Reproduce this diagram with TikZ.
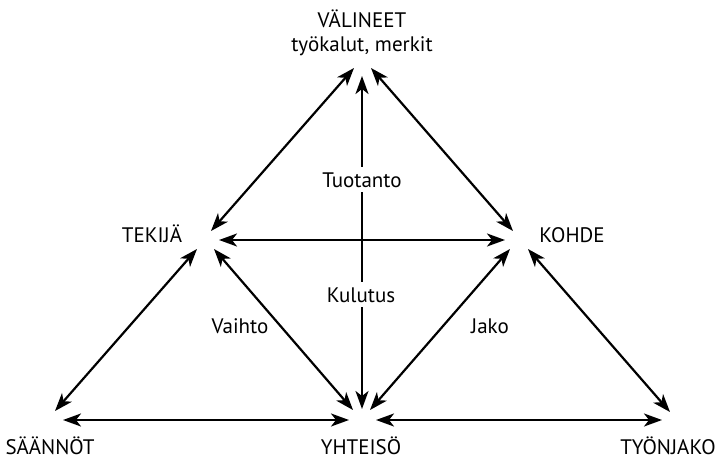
\documentclass[tikz,border=0pt]{standalone}
\usepackage{fontspec}
\setmainfont{PT Sans}
\usetikzlibrary{arrows.meta}
\begin{document}
\begin{tikzpicture}[x=1pt,y=-1pt,
  link/.style={line width=2.2pt,{Stealth[length=18pt,width=13pt,inset=5pt]}-{Stealth[length=18pt,width=13pt,inset=5pt]}},
  lbl/.style={font=\fontsize{21}{24}\selectfont, inner sep=0pt, anchor=base},
  mid/.style={lbl, fill=white, inner xsep=2pt, inner ysep=5pt}]
\useasboundingbox (0,0) rectangle (720,460);

% corner and side labels
\node[lbl] (valineet) at (362,28) {VÄLINEET};
\node[lbl] (tyokalut) at (362,52) {työkalut, merkit};
\node[lbl] (tekija)   at (152,242) {TEKIJÄ};
\node[lbl] (kohde)    at (572,242) {KOHDE};
\node[lbl] (saannot)  at (50,454)  {SÄÄNNÖT};
\node[lbl] (yhteiso)  at (361,454) {YHTEISÖ};
\node[lbl] (tyonjako) at (668,454) {TYÖNJAKO};

% arrow end points around each corner
\coordinate (tL) at (354,68);  \coordinate (tV) at (362,76);  \coordinate (tR) at (371,68);
\coordinate (aT) at (211,231); \coordinate (aH) at (219,240);
\coordinate (aS) at (197,249); \coordinate (aY) at (214,249);
\coordinate (kT) at (513,231); \coordinate (kH) at (505,240);
\coordinate (kY) at (510,249); \coordinate (kJ) at (528,249);
\coordinate (sD) at (55,411);  \coordinate (sH) at (63,420);
\coordinate (yL) at (353,410); \coordinate (yV) at (362,409); \coordinate (yR) at (370,410);
\coordinate (yHL) at (349,420); \coordinate (yHR) at (376,420);
\coordinate (jD) at (670,412); \coordinate (jH) at (662,420);

% connectors
\draw[link] (tL) -- (aT);
\draw[link] (tR) -- (kT);
\draw[link] (aH) -- (kH);
\draw[link] (aS) -- (sD);
\draw[link] (aY) -- (yL);
\draw[link] (kY) -- (yR);
\draw[link] (kJ) -- (jD);
\draw[link] (sH) -- (yHL);
\draw[link] (yHR) -- (jH);
\draw[link] (tV) -- (yV);

% labels sitting on the vertical line and inside the triangles
\node[mid] (tuotanto) at (362,187) {Tuotanto};
\node[mid] (kulutus)  at (361,302) {Kulutus};
\node[lbl] (vaihto)   at (240,333) {Vaihto};
\node[lbl] (jako)     at (490,333) {Jako};
\end{tikzpicture}
\end{document}
